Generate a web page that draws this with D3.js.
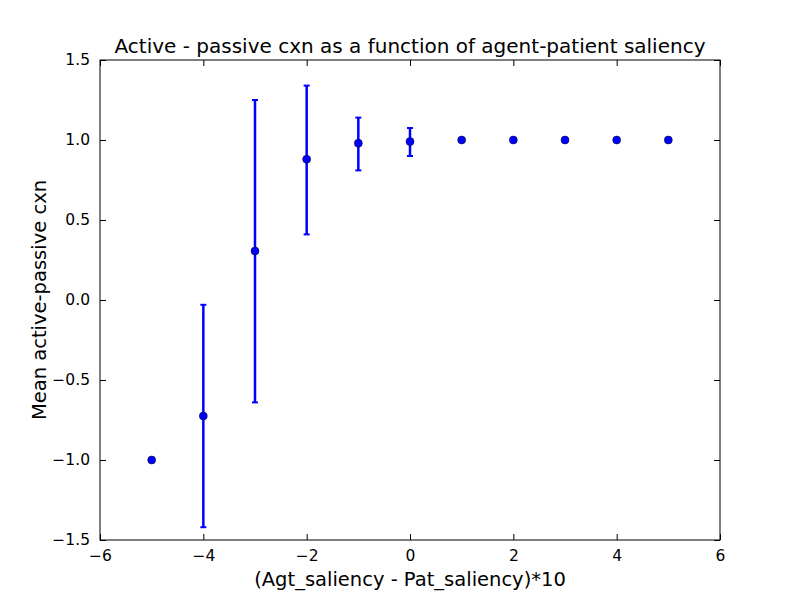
<!DOCTYPE html>
<html><head><meta charset="utf-8">
<script src="https://cdn.jsdelivr.net/npm/d3@7"></script>
<style>body{margin:0;background:#fff}text{font-family:"DejaVu Sans",sans-serif}</style>
</head><body>
<script>
const xs = [-5, -4, -3, -2, -1, 0, 1, 2, 3, 4, 5]
const means = [-1.0, -0.725, 0.306, 0.88, 0.98, 0.99, 1.0, 1.0, 1.0, 1.0, 1.0]
const errLo = [-1.0, -1.42, -0.64, 0.41, 0.81, 0.90, 1.0, 1.0, 1.0, 1.0, 1.0]
const errHi = [-1.0, -0.03, 1.25, 1.34, 1.14, 1.075, 1.0, 1.0, 1.0, 1.0, 1.0]
const xTicks = [-6, -4, -2, 0, 2, 4, 6]
const yTicks = [-1.5, -1.0, -0.5, 0.0, 0.5, 1.0, 1.5]

const w = 800, h = 600
const m = {l: 100, r: 80, t: 60, b: 60}
const svg = d3.select('body').append('svg').attr('width', w).attr('height', h)
const x = d3.scaleLinear().domain([-6, 6]).range([m.l, w - m.r])
const y = d3.scaleLinear().domain([-1.5, 1.5]).range([h - m.b, m.t])
const fmt = v => (v < 0 ? '\u2212' : '') + Math.abs(v)
const fmtY = v => (v < 0 ? '\u2212' : '') + Math.abs(v).toFixed(1)

const axes = [
  [d3.axisBottom(x).tickValues(xTicks).tickFormat(fmt), `translate(0,${h - m.b})`],
  [d3.axisTop(x).tickValues(xTicks).tickFormat(''), `translate(0,${m.t})`],
  [d3.axisLeft(y).tickValues(yTicks).tickFormat(fmtY), `translate(${m.l},0)`],
  [d3.axisRight(y).tickValues(yTicks).tickFormat(''), `translate(${w - m.r},0)`]
]
axes.forEach(([ax, tr]) => {
  const g = svg.append('g').attr('transform', tr)
    .call(ax.tickSizeInner(-6).tickSizeOuter(0).tickPadding(10))
  g.select('.domain').remove()
  g.selectAll('text').attr('font-size', 15.5).attr('fill', '#000')
  g.selectAll('line').attr('stroke', '#000')
})
svg.append('rect').attr('x', m.l).attr('y', m.t)
  .attr('width', w - m.l - m.r).attr('height', h - m.t - m.b)
  .attr('fill', 'none').attr('stroke', '#000')

const idx = d3.range(xs.length).filter(i => errHi[i] !== errLo[i])
svg.selectAll('.eb').data(idx).enter().append('line')
  .attr('x1', i => x(xs[i])).attr('x2', i => x(xs[i]))
  .attr('y1', i => y(errLo[i])).attr('y2', i => y(errHi[i]))
  .attr('stroke', 'blue').attr('stroke-width', 2.5)
;[errLo, errHi].forEach(arr => {
  svg.selectAll(null).data(idx).enter().append('line')
    .attr('x1', i => x(xs[i]) - 3).attr('x2', i => x(xs[i]) + 3)
    .attr('y1', i => y(arr[i])).attr('y2', i => y(arr[i]))
    .attr('stroke', 'blue').attr('stroke-width', 2)
})
svg.selectAll('circle').data(xs).enter().append('circle')
  .attr('cx', d => x(d)).attr('cy', (d, i) => y(means[i])).attr('r', 4)
  .attr('fill', 'blue').attr('stroke', '#000').attr('stroke-width', 0.5)

svg.append('text').attr('x', (m.l + w - m.r) / 2).attr('y', 53)
  .attr('text-anchor', 'middle').attr('font-size', 20)
  .text('Active - passive cxn as a function of agent-patient saliency')
svg.append('text').attr('x', (m.l + w - m.r) / 2).attr('y', 586)
  .attr('text-anchor', 'middle').attr('font-size', 19.5)
  .text('(Agt_saliency - Pat_saliency)*10')
svg.append('text').attr('transform', `translate(46,${(m.t + h - m.b) / 2}) rotate(-90)`)
  .attr('text-anchor', 'middle').attr('font-size', 19.5)
  .text('Mean active-passive cxn')
</script>
</body></html>
